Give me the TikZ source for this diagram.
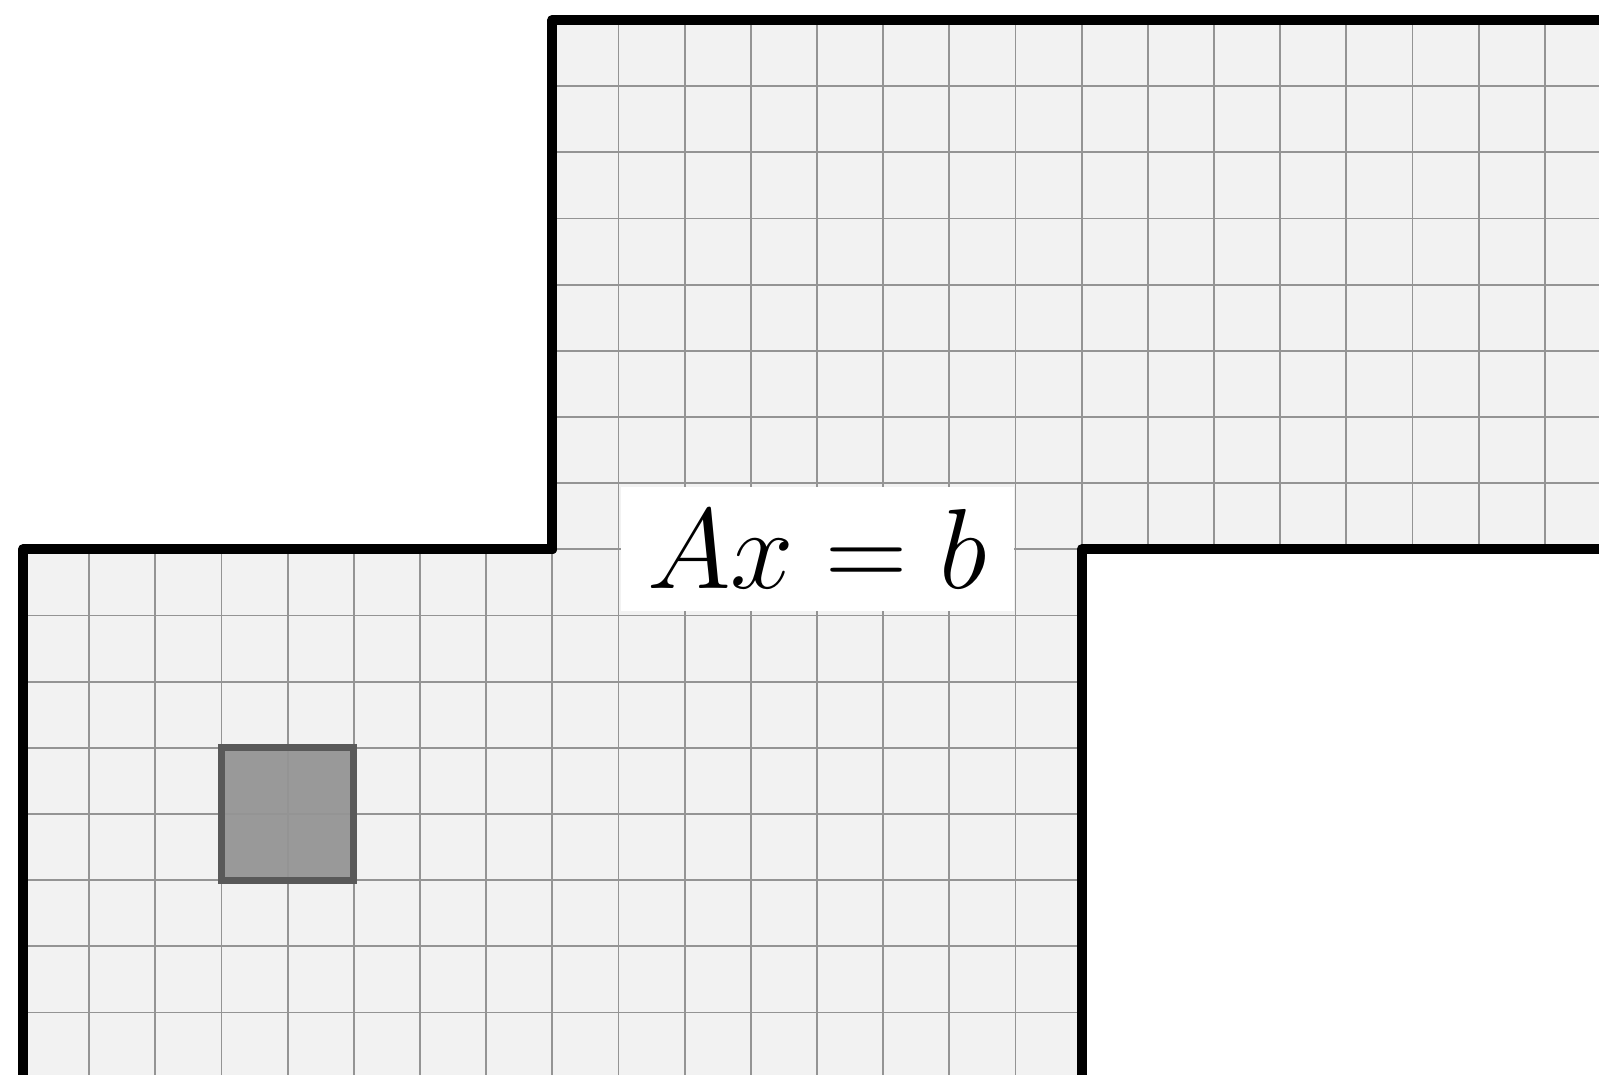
\documentclass[tikz,border=0pt]{standalone}
\usepackage{amsmath}
\usetikzlibrary{positioning}

\begin{document}
\begin{tikzpicture}[
  region/.style={fill=black!5},
  cellgrid/.style={draw=black!42, line width=0.8pt},
  wall/.style={draw=black, line width=4.4pt, line join=round},
  block/.style={fill=black!40, draw=black!65, line width=3pt},
  eqn/.style={fill=white, inner xsep=5.8pt, inner ysep=4.9pt, scale=1.97,
    font=\Huge}
]
\useasboundingbox (-0.348,-7.934) rectangle (23.818,8.302);
\clip (-0.348,-7.934) rectangle (23.818,8.302);

% domain and its mesh
\fill[region] (0,-9) -- (0,0) -- (8,0) -- (8,8) -- (25,8) -- (25,0)
  -- (16,0) -- (16,-9) -- cycle;
\begin{scope}
  \clip (0,-9) -- (0,0) -- (8,0) -- (8,8) -- (25,8) -- (25,0)
    -- (16,0) -- (16,-9) -- cycle;
  \fill[block] (3,-5) rectangle (5,-3);
  \draw[cellgrid] (0,-9) grid (25,8);
\end{scope}
\draw[draw=black!65, line width=3pt] (3,-5) rectangle (5,-3);

\node[eqn] (system) at (12,0) {$Ax=b$};

% boundary
\draw[wall] (0,-9) -- (0,0) -- (8,0) -- (8,8) -- (25,8);
\draw[wall] (25,0) -- (16,0) -- (16,-9);
\end{tikzpicture}
\end{document}
